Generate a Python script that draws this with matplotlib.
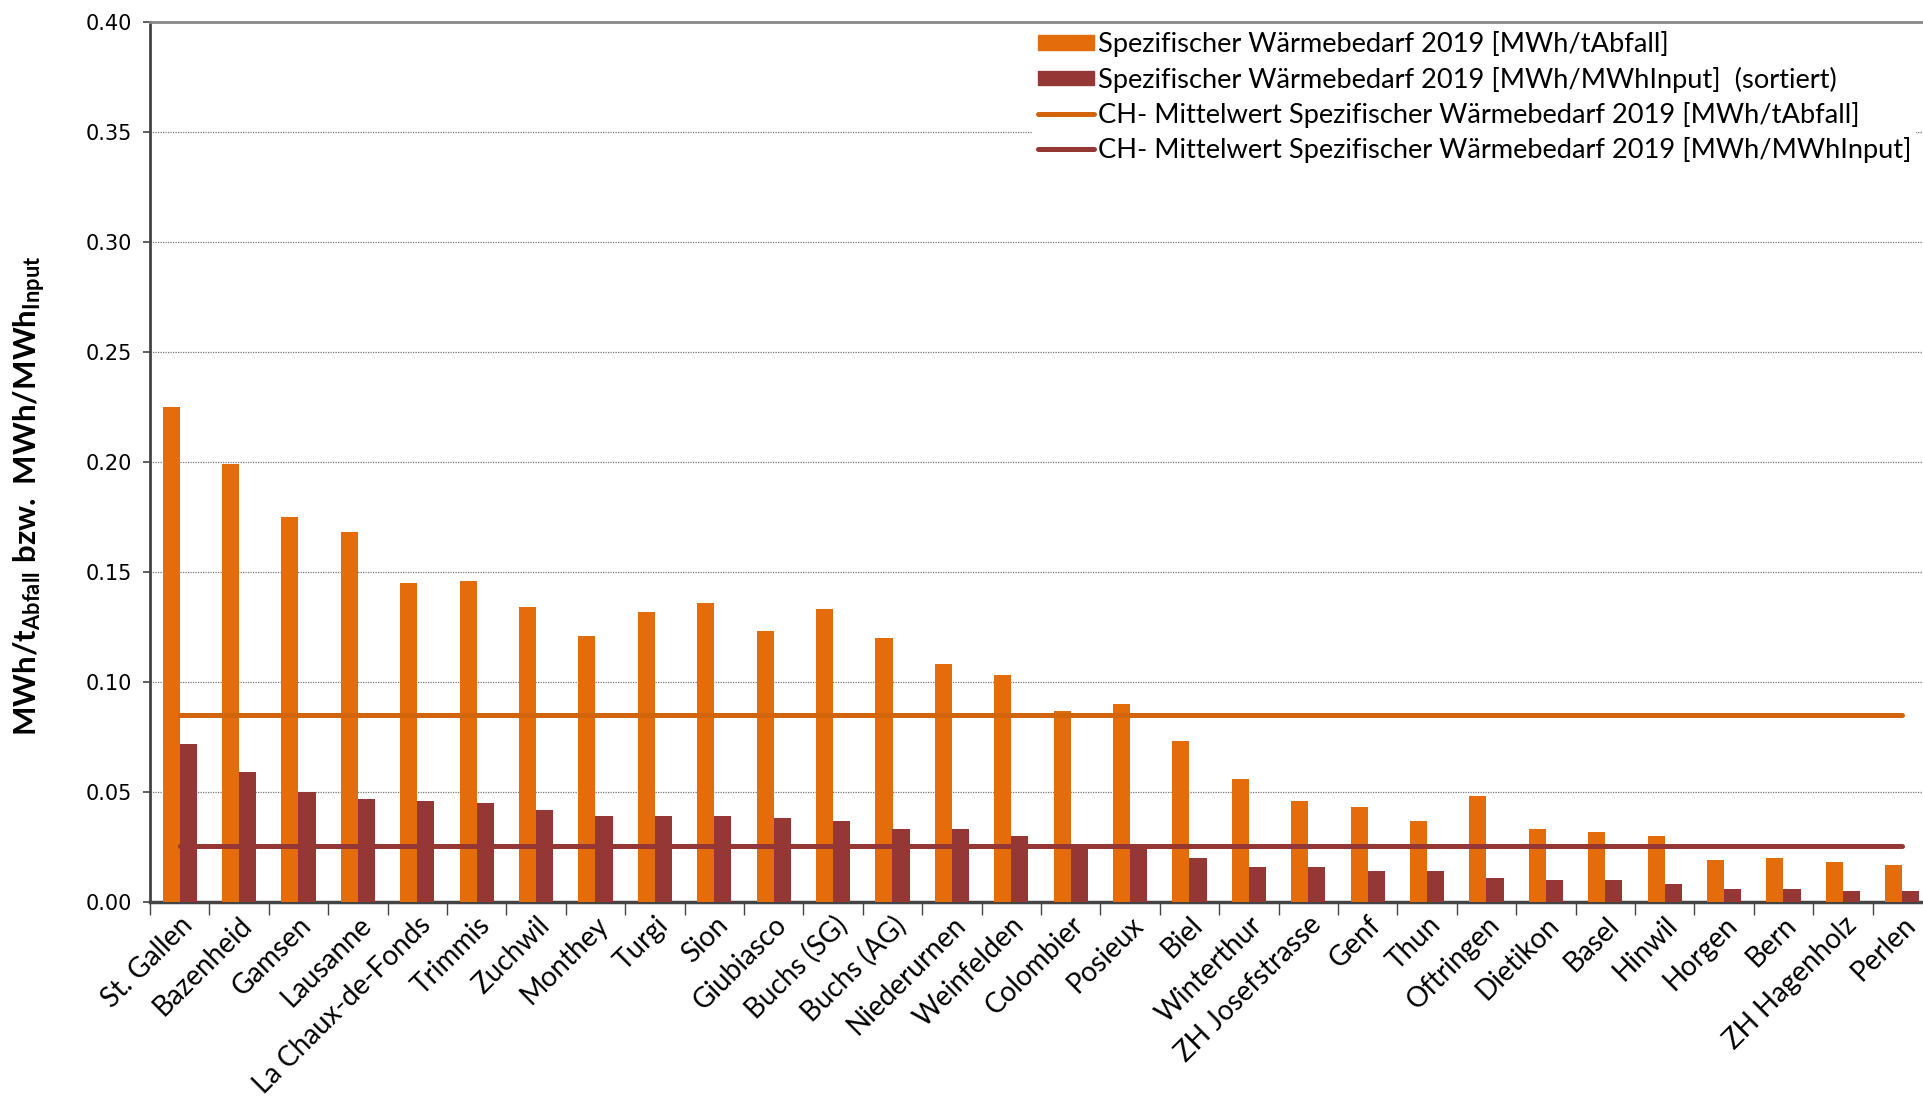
import matplotlib
matplotlib.use("Agg")
import matplotlib.pyplot as plt
import numpy as np
from matplotlib.lines import Line2D
from matplotlib.patches import Patch

categories = ["St. Gallen", "Bazenheid", "Gamsen", "Lausanne", "La Chaux-de-Fonds",
              "Trimmis", "Zuchwil", "Monthey", "Turgi", "Sion", "Giubiasco",
              "Buchs (SG)", "Buchs (AG)", "Niederurnen", "Weinfelden", "Colombier",
              "Posieux", "Biel", "Winterthur", "ZH Josefstrasse", "Genf", "Thun",
              "Oftringen", "Dietikon", "Basel", "Hinwil", "Horgen", "Bern",
              "ZH Hagenholz", "Perlen"]

waerme_t = [0.225, 0.199, 0.175, 0.168, 0.145, 0.146, 0.134, 0.121, 0.132, 0.136,
            0.123, 0.133, 0.120, 0.108, 0.103, 0.087, 0.090, 0.073, 0.056, 0.046,
            0.043, 0.037, 0.048, 0.033, 0.032, 0.030, 0.019, 0.020, 0.018, 0.017]

waerme_mwh = [0.072, 0.059, 0.050, 0.047, 0.046, 0.045, 0.042, 0.039, 0.039, 0.039,
              0.038, 0.037, 0.033, 0.033, 0.030, 0.026, 0.026, 0.020, 0.016, 0.016,
              0.014, 0.014, 0.011, 0.010, 0.010, 0.008, 0.006, 0.006, 0.005, 0.005]

mean_t = 0.085
mean_mwh = 0.0255

labels = ["Spezifischer Wärmebedarf 2019 [MWh/tAbfall]",
          "Spezifischer Wärmebedarf 2019 [MWh/MWhInput]  (sortiert)",
          "CH- Mittelwert Spezifischer Wärmebedarf 2019 [MWh/tAbfall]",
          "CH- Mittelwert Spezifischer Wärmebedarf 2019 [MWh/MWhInput]"]

yticks = [0.0, 0.05, 0.10, 0.15, 0.20, 0.25, 0.30, 0.35, 0.40]

c_orange = "#E46C0A"
c_maroon = "#953735"
c_orange_line = "#D2640A"

plt.rcParams['mathtext.fontset'] = 'custom'
plt.rcParams['mathtext.rm'] = 'Lato:bold'
plt.rcParams['mathtext.bf'] = 'Lato:bold'
plt.rcParams['mathtext.it'] = 'Lato:bold'

W, H = 1924, 1100
fig = plt.figure(figsize=(W / 100, H / 100), dpi=100)
ax = fig.add_axes([150 / W, 1 - 902 / H, (1932 - 150) / W, (902 - 22) / H])

n = len(categories)
x = np.arange(n)
bw = 0.287
ax.bar(x - bw / 2, waerme_t, width=bw, color=c_orange, zorder=3)
ax.bar(x + bw / 2, waerme_mwh, width=bw, color=c_maroon, zorder=3)

ax.plot([x[0], x[-1]], [mean_t, mean_t], color=c_orange_line, lw=3.6,
        solid_capstyle='round', zorder=4)
ax.plot([x[0], x[-1]], [mean_mwh, mean_mwh], color=c_maroon, lw=3.6,
        solid_capstyle='round', zorder=4)

ax.set_xlim(-0.5, n - 0.5)
ax.set_ylim(0, 0.40)
ax.set_yticks(yticks)
ax.set_yticklabels([f"{v:.2f}" for v in yticks], fontsize=15, family='DejaVu Sans')
for v in yticks[1:-1]:
    ax.axhline(v, color='#777777', lw=0.9, ls=(0, (1, 1)), zorder=1)

ax.set_xticks(np.arange(n + 1) - 0.5, minor=False)
ax.set_xticklabels([])
ax.tick_params(axis='x', which='major', length=9, width=1, color='#444444', direction='out')
ax.set_xticks(x, minor=True)
ax.set_xticklabels(categories, minor=True, rotation=45, ha='right',
                   rotation_mode='anchor', fontsize=20, family='Lato')
ax.tick_params(axis='x', which='minor', length=0, pad=7)
ax.tick_params(axis='y', length=5, width=1.2, color='#444444', pad=8)

for s in ['left', 'bottom']:
    ax.spines[s].set_color('#444444')
ax.spines['left'].set_linewidth(2)
ax.spines['bottom'].set_linewidth(2.5)
ax.spines['top'].set_color('#888888')
ax.spines['top'].set_linewidth(2)
ax.spines['right'].set_visible(False)

fig.text(30 / W, 1 - 496 / H,
         r'$\mathbf{MWh/t_{Abfall}\ bzw.\ MWh/MWh_{Input}}$',
         rotation=90, ha='center', va='center', fontsize=22.5)

handles = [Patch(color=c_orange), Patch(color=c_maroon),
           Line2D([], [], color=c_orange_line, lw=3.6, solid_capstyle='round'),
           Line2D([], [], color=c_maroon, lw=3.6, solid_capstyle='round')]
leg = ax.legend(handles, labels, loc='upper left',
                bbox_to_anchor=(1033 / W, 1 - 26 / H), bbox_transform=fig.transFigure,
                frameon=True, facecolor='white', edgecolor='none', framealpha=1,
                fancybox=False, borderpad=0.2, borderaxespad=0,
                handlelength=2.05, handleheight=0.45, handletextpad=0.12,
                labelspacing=0.33, prop={'family': 'Lato', 'size': 19.6})
leg.set_zorder(10)

fig.savefig("out.png", dpi=100)
